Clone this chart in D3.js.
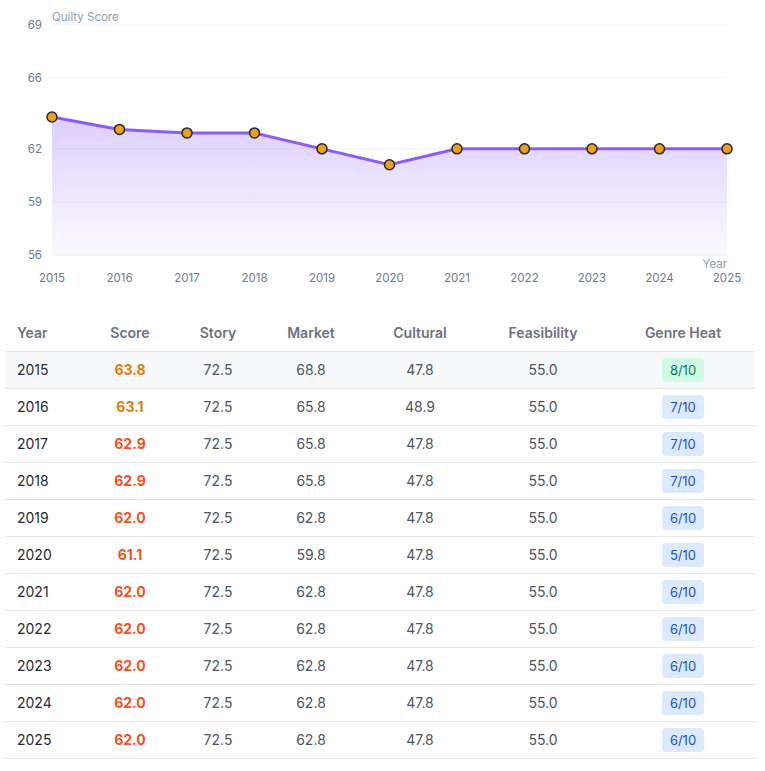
<!DOCTYPE html>
<html><head><meta charset="utf-8">
<script src="https://cdn.jsdelivr.net/npm/d3@7"></script>
<style>
html,body{margin:0;padding:0;background:#fff;}
svg{display:block;font-family:Inter, "Noto Sans", sans-serif;}
</style></head>
<body><svg id="c" width="765" height="771"></svg>
<script>
const years = [2015,2016,2017,2018,2019,2020,2021,2022,2023,2024,2025];
const scores = [63.8,63.1,62.9,62.9,62.0,61.1,62.0,62.0,62.0,62.0,62.0];
const story = [72.5,72.5,72.5,72.5,72.5,72.5,72.5,72.5,72.5,72.5,72.5];
const market = [68.8,65.8,65.8,65.8,62.8,59.8,62.8,62.8,62.8,62.8,62.8];
const cultural = [47.8,48.9,47.8,47.8,47.8,47.8,47.8,47.8,47.8,47.8,47.8];
const feasibility = [55.0,55.0,55.0,55.0,55.0,55.0,55.0,55.0,55.0,55.0,55.0];
const genreHeat = [8,7,7,7,6,5,6,6,6,6,6];
const yTicks = [56,59,62,66,69];
const headers = ["Year","Score","Story","Market","Cultural","Feasibility","Genre Heat"];

const svg = d3.select("#c");
const x = d3.scalePoint().domain(years).range([52,727]);
const y = d3.scaleLinear().domain([56,69]).range([255,25]);

const defs = svg.append("defs");
const g = defs.append("linearGradient").attr("id","ag").attr("x1",0).attr("x2",0).attr("y1",0).attr("y2",1);
g.append("stop").attr("offset","0%").attr("stop-color","#8b5cf6").attr("stop-opacity",0.3);
g.append("stop").attr("offset","100%").attr("stop-color","#8b5cf6").attr("stop-opacity",0.03);

// grid
svg.append("g").selectAll("line").data(yTicks).join("line")
  .attr("x1",52).attr("x2",727).attr("y1",d=>y(d)).attr("y2",d=>y(d))
  .attr("stroke","#eef0f4").attr("stroke-width",1);

// y labels
svg.append("g").selectAll("text").data(yTicks).join("text")
  .attr("x",42).attr("y",d=>y(d)).attr("dy","0.35em").attr("text-anchor","end")
  .attr("font-size",11.5).attr("fill","#6b7a90").text(d=>d);

// x labels
svg.append("g").selectAll("text").data(years).join("text")
  .attr("x",d=>x(d)).attr("y",278).attr("dy","0.35em").attr("text-anchor","middle")
  .attr("font-size",11.5).attr("fill","#6b7a90").text(d=>d);

svg.append("text").attr("x",52).attr("y",17).attr("dy","0.35em").attr("font-size",11.5)
  .attr("fill","#8d9bb0").text("Quilty Score");
svg.append("text").attr("x",727).attr("y",264).attr("dy","0.35em").attr("text-anchor","end")
  .attr("font-size",11.5).attr("fill","#8d9bb0").text("Year");

const pts = years.map((yr,i)=>({yr,v:scores[i]}));
svg.append("path").datum(pts)
  .attr("d",d3.area().x(d=>x(d.yr)).y0(y(56)).y1(d=>y(d.v)))
  .attr("fill","url(#ag)");
svg.append("path").datum(pts)
  .attr("d",d3.line().x(d=>x(d.yr)).y(d=>y(d.v)))
  .attr("fill","none").attr("stroke","#8b5cf6").attr("stroke-width",3);
svg.append("g").selectAll("circle").data(pts).join("circle")
  .attr("cx",d=>x(d.yr)).attr("cy",d=>y(d.v)).attr("r",5)
  .attr("fill","#f59e0b").attr("stroke","#1f2937").attr("stroke-width",1.5);

// table
const colX = [17,130,218,311,420,543,683];
const anchors = ["start","middle","middle","middle","middle","middle","middle"];
const tableTop = 351, rowH = 37, tL = 5, tR = 755;

svg.append("g").selectAll("text").data(headers).join("text")
  .attr("x",(d,i)=>colX[i]).attr("y",333).attr("dy","0.35em")
  .attr("text-anchor",(d,i)=>anchors[i]).attr("font-size",14).attr("font-weight",600)
  .attr("fill","#6b7280").text(d=>d);

const rows = years.map((yr,i)=>({i,yr,score:scores[i],story:story[i],market:market[i],cultural:cultural[i],feas:feasibility[i],heat:genreHeat[i]}));
const rg = svg.append("g").selectAll("g").data(rows).join("g")
  .attr("transform",d=>`translate(0,${tableTop + d.i*rowH})`);
rg.filter(d=>d.i===0).append("rect").attr("x",tL).attr("y",0).attr("width",tR-tL).attr("height",rowH).attr("fill","#f8f9fb");
rg.append("line").attr("x1",tL).attr("x2",tR).attr("y1",0.5).attr("y2",0.5).attr("stroke","#e5e7eb");
rg.filter(d=>d.i===rows.length-1).append("line").attr("x1",tL).attr("x2",tR).attr("y1",rowH+0.5).attr("y2",rowH+0.5).attr("stroke","#e5e7eb");
const cy = rowH/2+0.5;
rg.append("text").attr("x",colX[0]).attr("y",cy).attr("dy","0.35em").attr("font-size",14).attr("fill","#1f2937").text(d=>d.yr);
rg.append("text").attr("x",colX[1]).attr("y",cy).attr("dy","0.35em").attr("text-anchor","middle").attr("font-size",14).attr("font-weight",700)
  .attr("fill",d=>d.score>=63?"#e27c0c":"#f4511e").text(d=>d.score.toFixed(1));
[["story",2],["market",3],["cultural",4],["feas",5]].forEach(([k,c])=>{
  rg.append("text").attr("x",colX[c]).attr("y",cy).attr("dy","0.35em").attr("text-anchor","middle").attr("font-size",14)
    .attr("fill","#4b5563").text(d=>d[k].toFixed(1));
});
rg.append("rect").attr("x",colX[6]-21).attr("y",cy-12).attr("width",42).attr("height",24).attr("rx",4)
  .attr("fill",d=>d.heat>=8?"#d1fae5":"#dbeafe");
rg.append("text").attr("x",colX[6]).attr("y",cy).attr("dy","0.35em").attr("text-anchor","middle").attr("font-size",13)
  .attr("fill",d=>d.heat>=8?"#047857":"#1d4ed8").text(d=>d.heat+"/10");
</script></body></html>
